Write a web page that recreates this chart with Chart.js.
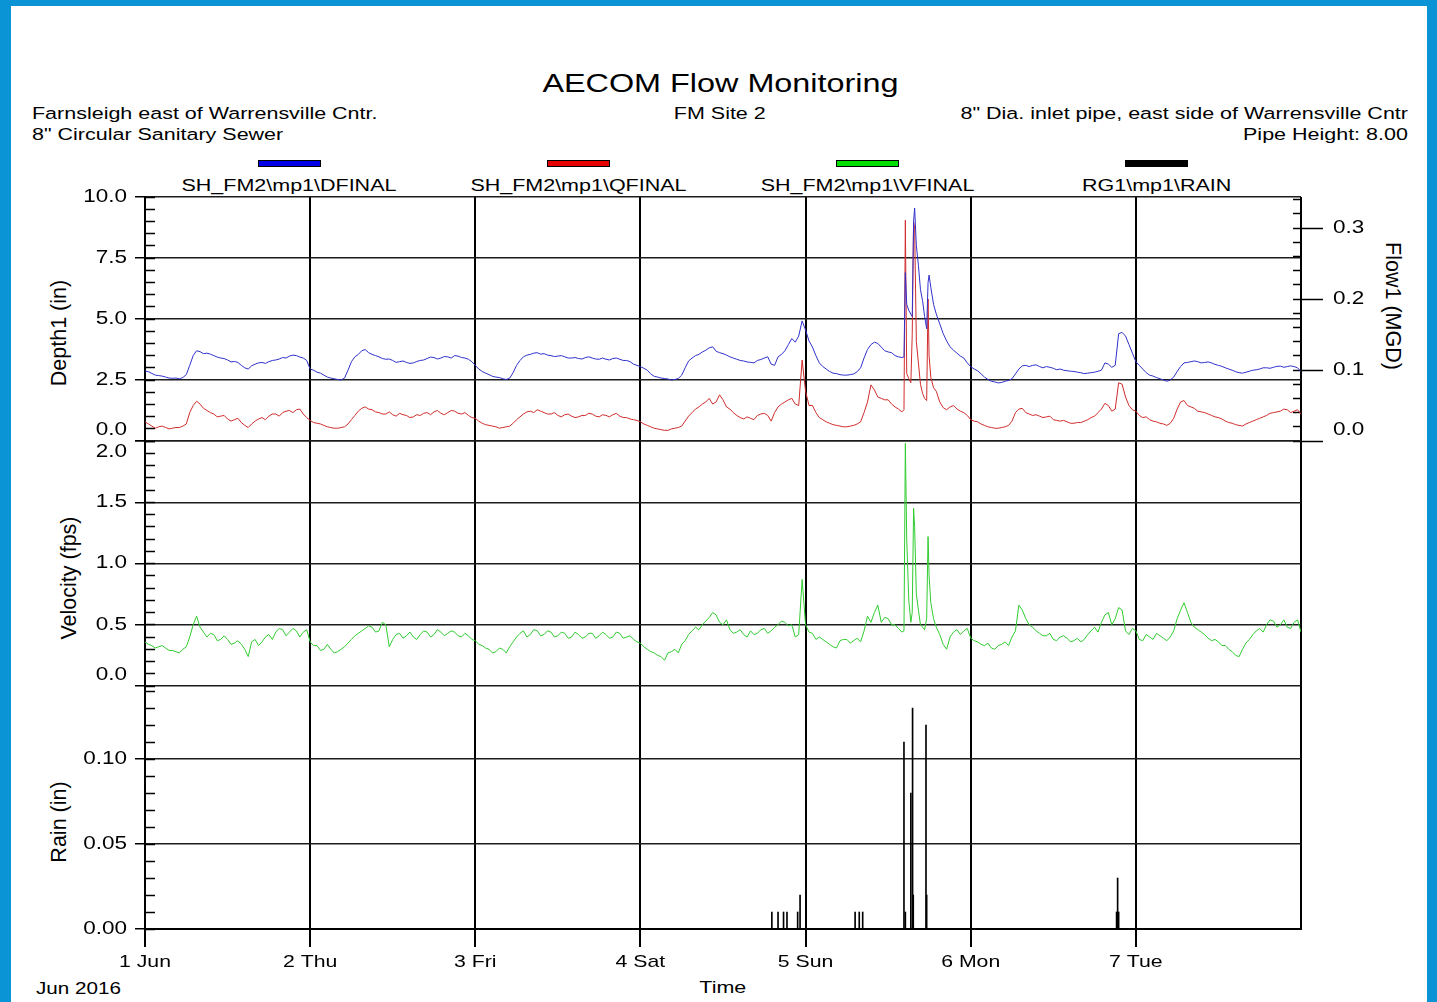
<!DOCTYPE html>
<html>
<head>
<meta charset="utf-8">
<title>AECOM Flow Monitoring</title>
<script src="https://cdn.jsdelivr.net/npm/chart.js@4.4.1/dist/chart.umd.min.js"></script>
<style>
  html, body { margin: 0; padding: 0; }
  body { width: 1437px; height: 1002px; position: relative; overflow: hidden; background: #0a94d6;
         font-family: "Liberation Sans", Arial, sans-serif; color: #000; }
  #sheet { position: absolute; left: 11px; top: 6px; width: 1416px; height: 996px; background: #fff; }
  canvas { position: absolute; left: 0; top: 0; }
  .txt { position: absolute; white-space: nowrap; line-height: 1; }
  .txt > span { display: inline-block; transform: scaleX(1.25); }
  .mid { text-align: center; }
  .mid > span { transform-origin: 50% 50%; }
  .lft > span { transform-origin: 0 50%; }
  .rgt { text-align: right; }
  .rgt > span { transform-origin: 100% 50%; }
  .rot { position: absolute; white-space: nowrap; line-height: 1; font-size: 21.5px;
         transform: translate(-50%, -50%) rotate(-90deg); }
  .rot.cw { transform: translate(-50%, -50%) rotate(90deg); }
  .legbar { position: absolute; width: 63px; height: 7px; box-sizing: border-box; border: 1px solid #000; }
</style>
</head>
<body>
<div id="sheet"></div>

<div class="txt mid" style="left:220px;width:1000px;top:71.4px;font-size:25.9px"><span>AECOM Flow Monitoring</span></div>
<div class="txt mid" style="left:220px;width:1000px;top:104.7px;font-size:17.2px"><span>FM Site 2</span></div>
<div class="txt lft" style="left:31.5px;top:105.4px;font-size:17.2px"><span>Farnsleigh east of Warrensville Cntr.</span></div>
<div class="txt lft" style="left:31.5px;top:126.1px;font-size:17.2px"><span>8" Circular Sanitary Sewer</span></div>
<div class="txt rgt" style="right:29px;top:105.4px;font-size:17.2px"><span>8" Dia. inlet pipe, east side of Warrensville Cntr</span></div>
<div class="txt rgt" style="right:29px;top:126.1px;font-size:17.2px"><span>Pipe Height: 8.00</span></div>

<div id="legend"></div>

<div class="rot" style="left:59.8px;top:333px">Depth1 (in)</div>
<div class="rot" style="left:69.8px;top:578px">Velocity (fps)</div>
<div class="rot" style="left:59.8px;top:822px">Rain (in)</div>
<div class="rot cw" style="left:1391.9px;top:305.8px">Flow1 (MGD)</div>

<div class="txt mid" style="left:623px;width:200px;top:978.5px;font-size:17.2px"><span>Time</span></div>
<div class="txt lft" style="left:36px;top:980px;font-size:16.5px"><span>Jun 2016</span></div>

<canvas id="depthChart" width="1437" height="1002"></canvas>
<canvas id="velChart" width="1437" height="1002"></canvas>
<canvas id="rainChart" width="1437" height="1002"></canvas>

<script>
// x values are hours after 1 Jun 2016 00:00
const dayLabels = ['1 Jun', '2 Thu', '3 Fri', '4 Sat', '5 Sun', '6 Mon', '7 Tue'];
const seriesNames = ['SH_FM2\\mp1\\DFINAL', 'SH_FM2\\mp1\\QFINAL', 'SH_FM2\\mp1\\VFINAL', 'RG1\\mp1\\RAIN'];
const seriesColors = ['#0000e6', '#e60000', '#00e000', '#000000'];

// readings on the hour, h0 .. h168
const depthIn = [
  2.87, 2.77, 2.68, 2.62, 2.57, 2.55, 2.72, 3.50, 3.66, 3.60, 3.50, 3.40, 3.32, 3.26, 3.10, 2.95, 3.15, 3.22, 3.25, 3.32, 3.42, 3.48, 3.50, 3.40,
  2.95, 2.82, 2.70, 2.58, 2.52, 2.58, 3.25, 3.55, 3.75, 3.55, 3.45, 3.35, 3.30, 3.25, 3.22, 3.20, 3.30, 3.38, 3.42, 3.40, 3.45, 3.50, 3.42, 3.35,
  3.10, 2.85, 2.72, 2.62, 2.55, 2.58, 3.10, 3.45, 3.55, 3.62, 3.58, 3.50, 3.48, 3.45, 3.40, 3.38, 3.42, 3.40, 3.35, 3.35, 3.38, 3.35, 3.30, 3.15,
  3.05, 2.90, 2.65, 2.58, 2.54, 2.52, 2.70, 3.28, 3.50, 3.65, 3.82, 3.68, 3.58, 3.45, 3.35, 3.28, 3.22, 3.30, 3.40, 3.15, 3.45, 3.70, 4.20, 4.30,
  4.55, 3.85, 3.20, 2.95, 2.78, 2.72, 2.70, 2.75, 3.00, 3.75, 4.05, 3.85, 3.65, 3.50, 3.42, 5.30, 9.50, 5.78, 6.80, 5.20, 4.40, 3.86, 3.60, 3.40,
  3.05, 2.88, 2.62, 2.45, 2.38, 2.45, 2.55, 2.95, 3.10, 3.10, 3.05, 3.05, 2.98, 2.95, 2.88, 2.85, 2.80, 2.78, 2.82, 2.90, 3.15, 3.10, 4.45, 3.95,
  3.25, 2.95, 2.70, 2.60, 2.50, 2.50, 2.85, 3.20, 3.25, 3.25, 3.22, 3.20, 3.10, 3.00, 2.90, 2.80, 2.82, 2.90, 2.95, 3.00, 3.02, 3.07, 3.05, 3.05, 2.85
];
const flowMgd = [
  0.027, 0.021, 0.020, 0.019, 0.018, 0.019, 0.024, 0.050, 0.052, 0.043, 0.038, 0.035, 0.031, 0.030, 0.026, 0.019, 0.028, 0.033, 0.035, 0.038, 0.040, 0.043, 0.044, 0.038,
  0.029, 0.025, 0.022, 0.019, 0.018, 0.020, 0.030, 0.042, 0.048, 0.044, 0.040, 0.038, 0.037, 0.039, 0.036, 0.034, 0.036, 0.040, 0.041, 0.039, 0.040, 0.042, 0.038, 0.036,
  0.032, 0.025, 0.022, 0.020, 0.019, 0.021, 0.030, 0.038, 0.042, 0.044, 0.040, 0.038, 0.036, 0.037, 0.035, 0.034, 0.036, 0.038, 0.034, 0.036, 0.037, 0.035, 0.033, 0.030,
  0.027, 0.022, 0.018, 0.016, 0.015, 0.018, 0.021, 0.035, 0.045, 0.052, 0.060, 0.055, 0.058, 0.045, 0.036, 0.031, 0.032, 0.036, 0.039, 0.028, 0.048, 0.055, 0.060, 0.050,
  0.070, 0.050, 0.033, 0.027, 0.023, 0.021, 0.020, 0.022, 0.027, 0.055, 0.072, 0.060, 0.058, 0.048, 0.041, 0.088, 0.300, 0.067, 0.120, 0.070, 0.047, 0.048, 0.045, 0.040,
  0.030, 0.027, 0.022, 0.019, 0.018, 0.020, 0.028, 0.045, 0.040, 0.036, 0.035, 0.034, 0.030, 0.028, 0.027, 0.025, 0.026, 0.030, 0.035, 0.045, 0.050, 0.045, 0.080, 0.050,
  0.042, 0.033, 0.030, 0.027, 0.024, 0.025, 0.045, 0.057, 0.048, 0.042, 0.040, 0.036, 0.033, 0.028, 0.025, 0.022, 0.024, 0.028, 0.032, 0.036, 0.040, 0.042, 0.044, 0.042, 0.038
];
const velFps = [
  0.36, 0.33, 0.32, 0.31, 0.29, 0.27, 0.32, 0.50, 0.48, 0.40, 0.42, 0.38, 0.38, 0.35, 0.34, 0.24, 0.38, 0.36, 0.42, 0.44, 0.46, 0.44, 0.45, 0.44,
  0.36, 0.33, 0.30, 0.30, 0.28, 0.32, 0.38, 0.43, 0.47, 0.48, 0.45, 0.50, 0.38, 0.43, 0.41, 0.40, 0.42, 0.44, 0.42, 0.44, 0.43, 0.44, 0.40, 0.41,
  0.37, 0.33, 0.30, 0.28, 0.30, 0.32, 0.40, 0.45, 0.42, 0.45, 0.42, 0.44, 0.41, 0.43, 0.40, 0.42, 0.40, 0.43, 0.41, 0.42, 0.40, 0.43, 0.40, 0.38,
  0.35, 0.30, 0.27, 0.24, 0.27, 0.30, 0.34, 0.42, 0.48, 0.50, 0.56, 0.58, 0.50, 0.46, 0.44, 0.42, 0.45, 0.43, 0.47, 0.45, 0.50, 0.52, 0.50, 0.42,
  0.50, 0.43, 0.40, 0.36, 0.32, 0.37, 0.38, 0.37, 0.36, 0.57, 0.60, 0.52, 0.55, 0.50, 0.44, 0.60, 1.30, 0.50, 0.90, 0.48, 0.34, 0.40, 0.46, 0.45,
  0.39, 0.36, 0.33, 0.31, 0.33, 0.36, 0.40, 0.66, 0.55, 0.48, 0.43, 0.41, 0.38, 0.40, 0.39, 0.37, 0.36, 0.42, 0.48, 0.52, 0.60, 0.55, 0.62, 0.42,
  0.45, 0.37, 0.40, 0.43, 0.39, 0.40, 0.55, 0.68, 0.52, 0.46, 0.42, 0.37, 0.36, 0.33, 0.28, 0.24, 0.35, 0.42, 0.47, 0.50, 0.53, 0.50, 0.48, 0.52, 0.44
];

// readings on the half hour, h0.5 .. h167.5 (they carry the jitter of the logger trace)
const depthHalf = [
  2.84, 2.70, 2.66, 2.58, 2.58, 2.60, 3.10, 3.70, 3.58, 3.56, 3.44, 3.38, 3.24, 3.22, 3.00, 3.08, 3.20, 3.18, 3.30, 3.36, 3.40, 3.52, 3.44, 3.30,
  2.90, 2.78, 2.62, 2.55, 2.50, 2.90, 3.45, 3.70, 3.62, 3.50, 3.38, 3.36, 3.22, 3.28, 3.18, 3.26, 3.32, 3.44, 3.36, 3.46, 3.40, 3.48, 3.40, 3.25,
  2.95, 2.78, 2.65, 2.60, 2.52, 2.80, 3.30, 3.52, 3.60, 3.56, 3.52, 3.46, 3.50, 3.40, 3.42, 3.36, 3.45, 3.36, 3.40, 3.32, 3.40, 3.30, 3.25, 3.10,
  2.98, 2.75, 2.62, 2.56, 2.50, 2.56, 3.00, 3.40, 3.55, 3.72, 3.86, 3.62, 3.52, 3.40, 3.30, 3.24, 3.20, 3.34, 3.45, 3.10, 3.55, 3.95, 4.05, 4.92,
  4.10, 3.50, 3.05, 2.85, 2.76, 2.70, 2.72, 2.84, 3.40, 3.95, 4.00, 3.70, 3.62, 3.45, 6.90, 5.10, 6.60, 4.80, 5.80, 4.80, 4.10, 3.72, 3.48, 3.20,
  2.95, 2.75, 2.52, 2.42, 2.40, 2.48, 2.75, 3.08, 3.05, 3.12, 3.00, 3.02, 2.92, 2.90, 2.86, 2.82, 2.76, 2.80, 2.86, 3.20, 3.02, 4.40, 4.30, 3.60,
  3.10, 2.80, 2.66, 2.55, 2.45, 2.62, 3.05, 3.22, 3.28, 3.20, 3.24, 3.14, 3.06, 2.95, 2.84, 2.78, 2.86, 2.92, 3.00, 2.98, 3.06, 3.02, 3.08, 3.00
];
const flowHalf = [
  0.024, 0.018, 0.021, 0.017, 0.019, 0.021, 0.040, 0.056, 0.046, 0.040, 0.034, 0.036, 0.028, 0.032, 0.022, 0.024, 0.031, 0.030, 0.038, 0.035, 0.042, 0.040, 0.045, 0.033,
  0.026, 0.024, 0.020, 0.018, 0.019, 0.024, 0.036, 0.046, 0.045, 0.041, 0.038, 0.041, 0.035, 0.037, 0.033, 0.037, 0.039, 0.037, 0.043, 0.037, 0.043, 0.039, 0.040, 0.033,
  0.028, 0.023, 0.021, 0.018, 0.020, 0.025, 0.034, 0.041, 0.040, 0.042, 0.038, 0.040, 0.034, 0.038, 0.033, 0.036, 0.039, 0.035, 0.037, 0.034, 0.039, 0.033, 0.031, 0.029,
  0.024, 0.020, 0.017, 0.015, 0.017, 0.019, 0.028, 0.040, 0.048, 0.055, 0.052, 0.065, 0.048, 0.040, 0.033, 0.034, 0.030, 0.038, 0.036, 0.040, 0.052, 0.058, 0.052, 0.114,
  0.050, 0.040, 0.030, 0.025, 0.022, 0.020, 0.021, 0.024, 0.040, 0.079, 0.062, 0.058, 0.052, 0.045, 0.311, 0.150, 0.090, 0.057, 0.080, 0.055, 0.044, 0.050, 0.042, 0.036,
  0.028, 0.024, 0.020, 0.018, 0.019, 0.022, 0.040, 0.046, 0.038, 0.037, 0.033, 0.035, 0.029, 0.029, 0.025, 0.026, 0.028, 0.033, 0.040, 0.053, 0.042, 0.082, 0.062, 0.044,
  0.036, 0.034, 0.028, 0.025, 0.022, 0.032, 0.055, 0.050, 0.046, 0.041, 0.038, 0.034, 0.031, 0.026, 0.023, 0.021, 0.026, 0.030, 0.034, 0.039, 0.041, 0.045, 0.040, 0.044
];
const velHalf = [
  0.34, 0.31, 0.33, 0.29, 0.28, 0.30, 0.40, 0.57, 0.44, 0.43, 0.37, 0.41, 0.34, 0.37, 0.30, 0.36, 0.33, 0.40, 0.38, 0.47, 0.41, 0.47, 0.40, 0.46,
  0.33, 0.29, 0.34, 0.27, 0.30, 0.35, 0.41, 0.45, 0.49, 0.44, 0.52, 0.32, 0.42, 0.39, 0.44, 0.38, 0.45, 0.40, 0.46, 0.41, 0.45, 0.41, 0.43, 0.38,
  0.34, 0.31, 0.27, 0.31, 0.27, 0.36, 0.43, 0.40, 0.46, 0.41, 0.45, 0.40, 0.44, 0.39, 0.44, 0.39, 0.43, 0.39, 0.44, 0.39, 0.44, 0.39, 0.41, 0.36,
  0.32, 0.28, 0.25, 0.21, 0.28, 0.27, 0.37, 0.45, 0.46, 0.53, 0.60, 0.52, 0.54, 0.43, 0.46, 0.40, 0.42, 0.46, 0.43, 0.48, 0.53, 0.49, 0.40, 0.87,
  0.44, 0.38, 0.38, 0.34, 0.31, 0.38, 0.35, 0.39, 0.45, 0.52, 0.66, 0.56, 0.50, 0.47, 1.98, 0.60, 0.55, 0.50, 0.58, 0.42, 0.30, 0.44, 0.42, 0.47,
  0.37, 0.34, 0.35, 0.30, 0.34, 0.33, 0.45, 0.62, 0.50, 0.45, 0.41, 0.43, 0.37, 0.41, 0.36, 0.39, 0.38, 0.45, 0.44, 0.58, 0.50, 0.64, 0.45, 0.47,
  0.38, 0.42, 0.38, 0.41, 0.37, 0.45, 0.62, 0.60, 0.48, 0.44, 0.39, 0.38, 0.33, 0.30, 0.25, 0.30, 0.38, 0.45, 0.44, 0.54, 0.48, 0.54, 0.47, 0.54
];

// finer readings through the storm of 5 Jun afternoon (they replace the hourly ones there)
const stormHours = [110, 110.3, 110.5, 110.7, 111.0, 111.3, 111.5, 111.7, 111.85, 112.1, 112.4, 112.7, 113.0, 113.3, 113.6, 113.8, 113.95, 114.2, 114.6, 115.0, 115.5, 116];
const stormDepth = [3.42, 3.45, 6.90, 5.60, 5.35, 5.20, 5.10, 9.00, 9.55, 8.00, 7.20, 6.20, 5.75, 5.10, 4.60, 6.50, 6.80, 6.30, 5.60, 5.20, 4.80, 4.40];
const stormFlow = [0.041, 0.044, 0.311, 0.095, 0.088, 0.082, 0.150, 0.309, 0.300, 0.140, 0.110, 0.080, 0.067, 0.060, 0.057, 0.200, 0.120, 0.090, 0.075, 0.070, 0.055, 0.047];
const stormVel = [0.44, 0.45, 1.98, 1.20, 0.70, 0.52, 0.60, 1.45, 1.30, 0.75, 0.62, 0.50, 0.48, 0.46, 0.55, 1.22, 0.90, 0.68, 0.55, 0.48, 0.42, 0.34];

// rain gauge tips
const rainHours = [91.1, 92.0, 92.8, 93.3, 94.85, 95.2, 103.2, 103.8, 104.3, 110.3, 110.5, 111.3, 111.55, 111.65, 113.5, 113.6, 141.2, 141.35, 141.5];
const rainIn = [0.01, 0.01, 0.01, 0.01, 0.01, 0.02, 0.01, 0.01, 0.01, 0.11, 0.01, 0.08, 0.13, 0.02, 0.12, 0.02, 0.01, 0.03, 0.01];

const FONT = '"Liberation Sans", Arial, sans-serif';
const GRID = '#1c1c1c';
const TEXT_WIDEN = 1.25;

// legend: coloured bar above each series name
const legendCentres = [289.3, 578.5, 867.5, 1156.5];
const legend = document.getElementById('legend');
seriesNames.forEach((name, i) => {
  const bar = document.createElement('div');
  bar.className = 'legbar';
  bar.style.left = (legendCentres[i] - 31.5) + 'px';
  bar.style.top = '160px';
  bar.style.background = seriesColors[i];
  legend.appendChild(bar);
  const lab = document.createElement('div');
  lab.className = 'txt mid';
  lab.style.cssText = 'left:' + (legendCentres[i] - 150) + 'px;width:300px;top:177.4px;font-size:17.2px';
  lab.innerHTML = '<span></span>';
  lab.firstChild.textContent = name;
  legend.appendChild(lab);
});

// hourly + half-hourly readings, with the storm detail in its window
function merge(hourly, half, storm) {
  const first = stormHours[0], last = stormHours[stormHours.length - 1];
  const outside = h => h < first || h > last;
  const pts = [];
  hourly.forEach((v, h) => { if (outside(h)) pts.push({ x: h, y: v }); });
  half.forEach((v, i) => { if (outside(i + 0.5)) pts.push({ x: i + 0.5, y: v }); });
  stormHours.forEach((h, i) => pts.push({ x: h, y: storm[i] }));
  return pts.sort((a, b) => a.x - b.x);
}

// the plot software draws its horizontal text wide; stretch upright canvas text to match
const wideText = {
  id: 'wideText',
  beforeDraw(chart) {
    const plain = CanvasRenderingContext2D.prototype.fillText;
    chart.ctx.fillText = function (text, x, y) {
      const m = this.getTransform();
      if (Math.abs(m.b) > 1e-6) return plain.call(this, text, x, y);
      this.save();
      this.translate(x, y);
      this.scale(TEXT_WIDEN, 1);
      plain.call(this, text, 0, 0);
      this.restore();
    };
  },
  afterDraw(chart) { delete chart.ctx.fillText; }
};

function xAxis(bottom) {
  return {
    type: 'linear', min: 0, max: 168, offset: false,
    border: { display: bottom, color: '#000', width: 2 },
    grid: {
      offset: false, color: '#000', lineWidth: 2, drawTicks: bottom, tickLength: 18, tickWidth: 2,
      tickColor: c => (c.tick && c.tick.value === 168) ? 'rgba(0,0,0,0)' : '#000'
    },
    ticks: {
      display: bottom, stepSize: 24, autoSkip: false, maxRotation: 0, minRotation: 0, padding: 5,
      color: '#000', font: { family: FONT, size: 17 },
      callback: v => dayLabels[v / 24] || ''
    },
    afterFit: s => { s.height = bottom ? 73 : 0; }
  };
}

function leftAxes(max, step, minorStep, label) {
  return {
    y: {
      position: 'left', weight: 1, min: 0, max: max,
      border: { display: true, color: '#000', width: 2 },
      grid: { color: GRID, lineWidth: 1.5, tickLength: 10, tickColor: '#000', tickWidth: 1.5 },
      ticks: { stepSize: step, includeBounds: false, padding: 8, color: '#000', font: { family: FONT, size: 18 }, callback: label },
      afterFit: s => { s.width = 145; }
    },
    yMinor: {
      position: 'left', weight: 0, min: 0, max: max,
      border: { display: false },
      grid: { drawOnChartArea: false, tickLength: -10, tickColor: '#000', tickWidth: 1.5 },
      ticks: { display: false, stepSize: minorStep, includeBounds: false },
      afterFit: s => { s.width = 0; }
    }
  };
}

const baseOptions = (padding) => ({
  responsive: false, animation: false, events: [],
  layout: { padding: padding },
  plugins: { legend: { display: false }, tooltip: { enabled: false } }
});

const line = (label, data, color, axis) => ({
  label: label, data: data, yAxisID: axis, borderColor: color, backgroundColor: color,
  borderWidth: 1, pointRadius: 0, tension: 0, fill: false
});

// depth + flow panel
const flowMax = 0.3437;
new Chart(document.getElementById('depthChart'), {
  type: 'line',
  data: {
    datasets: [
      line(seriesNames[0], merge(depthIn, depthHalf, stormDepth), '#3030cc', 'y'),
      line(seriesNames[1], merge(flowMgd, flowHalf, stormFlow), '#d02c2c', 'yFlow')
    ]
  },
  options: Object.assign(baseOptions({ left: 0, top: 197, right: 0, bottom: 561 }), {
    scales: Object.assign({ x: xAxis(false) },
      leftAxes(10, 2.5, 0.5, v => v === 0 ? ['0.0', ''] : v.toFixed(1)),
      {
        yFlow: {
          position: 'right', weight: 1, min: 0, max: flowMax,
          border: { display: false },
          grid: { drawOnChartArea: false, tickLength: 22, tickColor: '#000', tickWidth: 1.5 },
          ticks: { stepSize: 0.1, includeBounds: false, padding: 10, color: '#000', font: { family: FONT, size: 18 },
                   callback: v => v === 0 ? ['0.0', ''] : v.toFixed(1) },
          afterFit: s => { s.width = 136; }
        },
        yFlowMinor: {
          position: 'right', weight: 0, min: 0, max: flowMax,
          border: { display: false },
          grid: { drawOnChartArea: false, tickLength: -8, tickColor: '#000', tickWidth: 1.5 },
          ticks: { display: false, stepSize: 0.02, includeBounds: false },
          afterFit: s => { s.width = 0; }
        }
      })
  }),
  plugins: [wideText]
});

// velocity panel
new Chart(document.getElementById('velChart'), {
  type: 'line',
  data: { datasets: [line(seriesNames[2], merge(velFps, velHalf, stormVel), '#30cc30', 'y')] },
  options: Object.assign(baseOptions({ left: 0, top: 441, right: 136, bottom: 316 }), {
    scales: Object.assign({ x: xAxis(false) },
      leftAxes(2, 0.5, 0.1, v => v === 2 ? ['', '2.0'] : (v === 0 ? ['0.0', ''] : v.toFixed(1))))
  }),
  plugins: [wideText]
});

// rain panel
new Chart(document.getElementById('rainChart'), {
  type: 'bar',
  data: {
    datasets: [{
      label: seriesNames[3],
      data: rainHours.map((h, i) => ({ x: h, y: rainIn[i] })),
      yAxisID: 'y', backgroundColor: '#000', borderWidth: 0, barThickness: 1
    }]
  },
  options: Object.assign(baseOptions({ left: 0, top: 686, right: 136, bottom: 0 }), {
    scales: Object.assign({ x: xAxis(true) },
      leftAxes(0.143, 0.05, 0.01, v => v.toFixed(2)))
  }),
  plugins: [wideText]
});
</script>
</body>
</html>
